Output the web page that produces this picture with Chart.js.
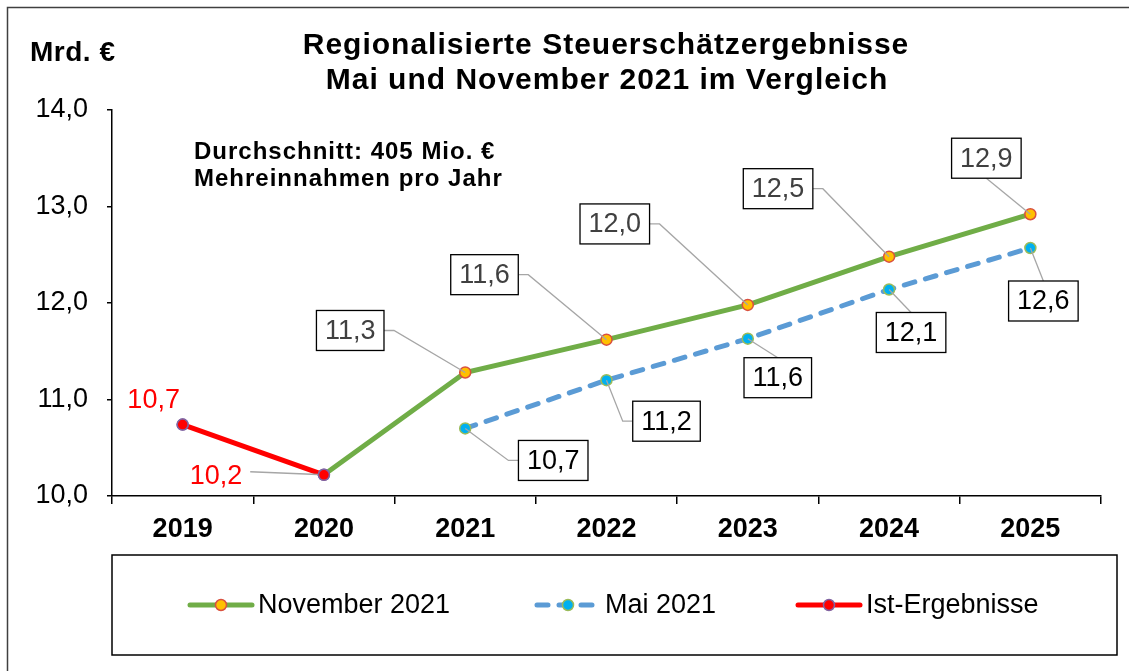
<!DOCTYPE html>
<html lang="de">

<head>
    <meta charset="UTF-8">
    <title>Regionalisierte Steuerschätzergebnisse</title>
    <style>
        html, body { margin: 0; padding: 0; background: #fff; }
        #wrap { width: 1129px; height: 671px; }
    </style>
</head>

<body>
    <div id="wrap"><canvas id="myChart" width="1129" height="671"></canvas></div>

    <script src="https://cdn.jsdelivr.net/npm/chart.js"></script>

    <script>
        // data (Mrd. €)
        const years = ['2019', '2020', '2021', '2022', '2023', '2024', '2025'];
        const november2021 = [null, 10.22, 11.28, 11.62, 11.98, 12.48, 12.92];
        const mai2021 = [null, null, 10.70, 11.20, 11.63, 12.14, 12.57];
        const istErgebnisse = [10.74, 10.22, null, null, null, null, null];
        const yMin = 10, yMax = 14, yStep = 1;

        const titleLines = ['Regionalisierte Steuerschätzergebnisse', 'Mai und November 2021 im Vergleich'];
        const noteLines = ['Durchschnitt: 405 Mio. €', 'Mehreinnahmen pro Jahr'];
        const unitLabel = 'Mrd. €';

        // label placement: box centre offset from the point and side the leader leaves from
        const novLabelPos = [null, null,
            { dx: -115, dy: -42, side: 'right' },
            { dx: -122, dy: -65, side: 'right' },
            { dx: -133, dy: -81, side: 'right' },
            { dx: -111, dy: -68, side: 'right' },
            { dx: -44, dy: -56, side: 'bottom' }];
        const maiLabelPos = [null, null,
            { dx: 88, dy: 32, side: 'left' },
            { dx: 60, dy: 41, side: 'left' },
            { dx: 30, dy: 39, side: 'top' },
            { dx: 22, dy: 43, side: 'top' },
            { dx: 13, dy: 53, side: 'top' }];
        const istLabelPos = [
            { dx: -29, dy: -17, leader: false },
            { dx: -108, dy: 9, leader: true }];

        const FONT = "'Liberation Sans', Arial, sans-serif";
        const fmt = v => v.toFixed(1).replace('.', ',');

        function text(ctx, str, x, y, font, color, align, spacing) {
            ctx.save();
            ctx.font = font;
            ctx.fillStyle = color;
            ctx.textAlign = align || 'left';
            ctx.textBaseline = 'alphabetic';
            ctx.letterSpacing = spacing || '0px';
            ctx.fillText(str, x, y);
            ctx.restore();
        }

        function marker(ctx, x, y, ds) {
            ctx.beginPath();
            ctx.arc(x, y, 5.5, 0, Math.PI * 2);
            ctx.fillStyle = ds.pointBackgroundColor;
            ctx.fill();
            ctx.lineWidth = ds.pointBorderWidth;
            ctx.strokeStyle = ds.pointBorderColor;
            ctx.stroke();
        }

        const decorPlugin = {
            id: 'decor',
            beforeDraw(chart) {
                const ctx = chart.ctx;
                ctx.save();
                ctx.fillStyle = '#fff';
                ctx.fillRect(0, 0, chart.width, chart.height);
                ctx.strokeStyle = '#404040';
                ctx.lineWidth = 1.5;
                ctx.strokeRect(7.5, 7.5, 1200, 800);
                ctx.restore();

                text(ctx, titleLines[0], 606, 54, 'bold 30px ' + FONT, '#000', 'center', '1px');
                text(ctx, titleLines[1], 607, 89, 'bold 30px ' + FONT, '#000', 'center', '1px');
                text(ctx, unitLabel, 30, 61, 'bold 28px ' + FONT, '#000', 'left', '0.5px');
                text(ctx, noteLines[0], 194, 159, 'bold 24px ' + FONT, '#000', 'left', '1px');
                text(ctx, noteLines[1], 194, 186, 'bold 24px ' + FONT, '#000', 'left', '1px');

                // legend
                ctx.save();
                ctx.strokeStyle = '#000';
                ctx.lineWidth = 1.5;
                ctx.strokeRect(112, 555, 1005, 100);
                const items = [{ x: 190 }, { x: 537 }, { x: 798 }];
                const ly = 605;
                chart.data.datasets.forEach((ds, i) => {
                    const x0 = items[i].x;
                    ctx.beginPath();
                    ctx.moveTo(x0, ly);
                    ctx.lineTo(x0 + 62, ly);
                    ctx.lineWidth = ds.borderWidth;
                    ctx.strokeStyle = ds.borderColor;
                    ctx.lineCap = 'round';
                    ctx.setLineDash(ds.borderDash || []);
                    ctx.stroke();
                    ctx.setLineDash([]);
                    marker(ctx, x0 + 31, ly, ds);
                    ctx.font = '27px ' + FONT;
                    ctx.fillStyle = '#000';
                    ctx.textBaseline = 'middle';
                    ctx.fillText(ds.label, x0 + 68, ly + 1);
                });
                ctx.restore();
            },
            afterDatasetsDraw(chart) {
                const ctx = chart.ctx;
                const boxLabels = (di, values, pos, color) => {
                    const meta = chart.getDatasetMeta(di);
                    values.forEach((v, i) => {
                        const p = pos[i];
                        if (v === null || !p) return;
                        const pt = meta.data[i];
                        const str = fmt(v);
                        ctx.save();
                        ctx.font = '27px ' + FONT;
                        const w = ctx.measureText(str).width + 17;
                        const h = 40;
                        const cx = pt.x + p.dx, cy = pt.y + p.dy;
                        const l = cx - w / 2, t = cy - h / 2;
                        // leader line
                        ctx.beginPath();
                        if (p.side === 'right') {
                            ctx.moveTo(l + w, cy);
                            ctx.lineTo(l + w + 10, cy);
                        } else if (p.side === 'left') {
                            ctx.moveTo(l, cy);
                            ctx.lineTo(l - 10, cy);
                        } else if (p.side === 'top') {
                            ctx.moveTo(cx, t);
                        } else {
                            ctx.moveTo(cx, t + h);
                        }
                        ctx.lineTo(pt.x, pt.y);
                        ctx.strokeStyle = '#A6A6A6';
                        ctx.lineWidth = 1.3;
                        ctx.stroke();
                        // box
                        ctx.fillStyle = '#fff';
                        ctx.fillRect(l, t, w, h);
                        ctx.strokeStyle = '#000';
                        ctx.lineWidth = 1.3;
                        ctx.strokeRect(l, t, w, h);
                        ctx.fillStyle = color;
                        ctx.textAlign = 'center';
                        ctx.textBaseline = 'middle';
                        ctx.fillText(str, cx, cy + 1);
                        ctx.restore();
                    });
                };
                boxLabels(0, november2021, novLabelPos, '#404040');
                boxLabels(1, mai2021, maiLabelPos, '#000');

                // Ist labels in red without box
                const meta = chart.getDatasetMeta(2);
                istErgebnisse.forEach((v, i) => {
                    const p = istLabelPos[i];
                    if (v === null || !p) return;
                    const pt = meta.data[i];
                    const tx = pt.x + p.dx, ty = pt.y + p.dy;
                    ctx.save();
                    ctx.font = '27px ' + FONT;
                    const w = ctx.measureText(fmt(v)).width;
                    if (p.leader) {
                        ctx.beginPath();
                        ctx.moveTo(tx + w / 2 + 8, ty - 12);
                        ctx.lineTo(pt.x, pt.y);
                        ctx.strokeStyle = '#A6A6A6';
                        ctx.lineWidth = 1.3;
                        ctx.stroke();
                    }
                    ctx.restore();
                    text(ctx, fmt(v), tx, ty, '27px ' + FONT, '#FF0000', 'center');
                });
                // redraw the Ist markers on top
                meta.data.forEach((pt, i) => {
                    if (istErgebnisse[i] !== null) marker(ctx, pt.x, pt.y, chart.data.datasets[2]);
                });
            }
        };

        const ctx = document.getElementById('myChart').getContext('2d');
        const myChart = new Chart(ctx, {
            type: 'line',
            data: {
                labels: years,
                datasets: [{
                    label: 'November 2021',
                    data: november2021,
                    borderColor: '#70AD47',
                    borderWidth: 5,
                    pointBackgroundColor: '#FFC000',
                    pointBorderColor: '#D9503F',
                    pointBorderWidth: 1.5,
                    pointRadius: c => c.dataIndex < 2 ? 0 : 5.5,
                    tension: 0,
                    order: 2
                }, {
                    label: 'Mai 2021',
                    data: mai2021,
                    borderColor: '#5B9BD5',
                    borderWidth: 5,
                    borderDash: [11, 11],
                    borderCapStyle: 'round',
                    pointBackgroundColor: '#00B0F0',
                    pointBorderColor: '#9BBB59',
                    pointBorderWidth: 1.5,
                    pointRadius: 5.5,
                    tension: 0,
                    order: 3
                }, {
                    label: 'Ist-Ergebnisse',
                    data: istErgebnisse,
                    borderColor: '#FF0000',
                    borderWidth: 5,
                    pointBackgroundColor: '#FF0000',
                    pointBorderColor: '#8064A2',
                    pointBorderWidth: 1.5,
                    pointRadius: 5.5,
                    tension: 0,
                    order: 1
                }]
            },
            options: {
                responsive: false,
                devicePixelRatio: 1,
                animation: false,
                layout: { padding: { top: 110, right: 28, bottom: 115, left: 0 } },
                plugins: {
                    legend: { display: false },
                    title: { display: false },
                    tooltip: { enabled: false }
                },
                scales: {
                    x: {
                        offset: true,
                        grid: { offset: true, drawOnChartArea: false, tickLength: 8, color: '#000', lineWidth: 1.5 },
                        border: { color: '#000', width: 1.5 },
                        ticks: { color: '#000', padding: 9, font: { family: FONT, size: 27, weight: 'bold' } },
                        afterFit: s => { s.height = 60; }
                    },
                    y: {
                        min: yMin,
                        max: yMax,
                        grid: { drawOnChartArea: false, tickLength: 5, color: '#000', lineWidth: 1.5 },
                        border: { color: '#000', width: 1.5 },
                        ticks: {
                            stepSize: yStep,
                            color: '#000',
                            padding: 19,
                            font: { family: FONT, size: 27 },
                            callback: v => fmt(v)
                        },
                        afterFit: s => { s.width = 112; }
                    }
                }
            },
            plugins: [decorPlugin]
        });
    </script>

</body>

</html>
